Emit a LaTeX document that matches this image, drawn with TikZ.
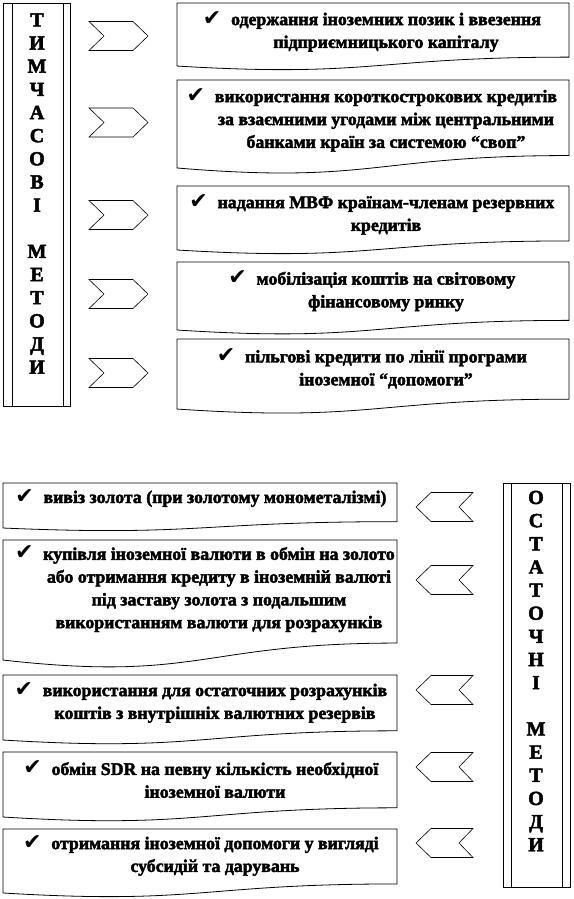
\documentclass[tikz,border=0pt]{standalone}
\usepackage{fontspec}
\setmainfont{Liberation Serif}[BoldFeatures={FakeBold=2.4}]
\newfontfamily\dvfont{DejaVu Sans}
\newcommand\ck{\llap{{\dvfont\fontsize{22}{22}\selectfont ✔}\hspace{0.55em}}}
\tikzset{
  docshape/.style={draw=black, line width=0.8pt, fill=white},
  chev/.style={draw=black, line width=0.6pt},
  txt/.style={align=center, font=\bfseries\fontsize{17.8}{22.8}\selectfont, inner sep=0pt},
  vlab/.style={align=center, font=\bfseries\fontsize{20}{23.15}\selectfont, inner sep=0pt},
  frame/.style={draw=black, line width=0.8pt}
}
% #1 x-left, #2 x-right, #3 top, #4 height
\newcommand\docbox[4]{%
  \draw[docshape] (#1,#3) -- (#2,#3) -- (#2,{#3+0.802*#4})
    .. controls ({(#1+#2)/2},{#3+0.802*#4}) and ({(#1+#2)/2},{#3+1.1075*#4}) .. (#1,{#3+0.934*#4}) -- cycle;}
\newcommand\chevR[1]{%
  \draw[chev] (89,{#1-14.5}) -- (133,{#1-14.5}) -- (148,#1) -- (133,{#1+14.5}) -- (89,{#1+14.5}) -- (104,#1) -- cycle;}
\newcommand\chevL[1]{%
  \draw[chev] (416,#1) -- (431,{#1-14.5}) -- (473,{#1-14.5}) -- (459,#1) -- (473,{#1+14.5}) -- (431,{#1+14.5}) -- cycle;}
\begin{document}
\begin{tikzpicture}[x=1pt,y=-1pt]
\useasboundingbox (0,0) rectangle (573,899);
\fill[white] (0,0) rectangle (573,899);

% left vertical block
\draw[frame] (3,3) rectangle (70,406);
\draw[frame] (12,3) -- (12,406);
\draw[frame] (63,3) -- (63,406);
\node[vlab] (L) at (37,193.5) {Т\\И\\М\\Ч\\А\\С\\О\\В\\І\\\mbox{}\\М\\Е\\Т\\О\\Д\\И};

% top chevrons
\chevR{36}
\chevR{122.5}
\chevR{215}
\chevR{294}
\chevR{373}

% top boxes
\docbox{177}{569}{3}{67.5}
\docbox{177}{569}{80}{94.2}
\docbox{177}{569}{186}{68.5}
\docbox{177}{569}{262}{72.8}
\docbox{177}{569}{339}{75}

\node[txt] (t1) at (386,31.5) {\ck одержання іноземних позик і ввезення\\підприємницького капіталу};
\node[txt] (t2) at (386,120) {\ck використання короткострокових кредитів\\за взаємними угодами між центральними\\банками країн за системою “своп”};
\node[txt] (t3) at (386,214.5) {\ck надання МВФ країнам-членам резервних\\кредитів};
\node[txt] (t4) at (386,291) {\ck мобілізація коштів на світовому\\фінансовому ринку};
\node[txt] (t5) at (386,368.5) {\ck пільгові кредити по лінії програми\\іноземної “допомоги”};

% right vertical block
\draw[frame] (503,483) rectangle (570,887);
\draw[frame] (511.5,483) -- (511.5,887);
\draw[frame] (562,483) -- (562,887);
\node[vlab] (R) at (536,671) {О\\С\\Т\\А\\Т\\О\\Ч\\Н\\І\\\mbox{}\\М\\Е\\Т\\О\\Д\\И};

% bottom chevrons
\chevL{507}
\chevL{580}
\chevL{690}
\chevL{767}
\chevL{843}

% bottom boxes
\docbox{3}{397}{483}{48.2}
\docbox{3}{397}{540}{128.5}
\docbox{3}{397}{675}{69.6}
\docbox{3}{397}{752}{69.6}
\docbox{3}{397}{829}{68.5}

\node[txt] (b1) at (215,498) {\ck вивіз золота (при золотому монометалізмі)};
\node[txt] (b2) at (219,589) {\ck купівля іноземної валюти в обмін на золото\\або отримання кредиту в іноземній валюті\\під заставу золота з подальшим\\використанням валюти для розрахунків};
\node[txt] (b3) at (215,702.5) {\ck використання для остаточних розрахунків\\коштів з внутрішніх валютних резервів};
\node[txt] (b4) at (215,779.5) {\ck обмін SDR на певну кількість необхідної\\іноземної валюти};
\node[txt] (b5) at (215,855.5) {\ck отримання іноземної допомоги у вигляді\\субсидій та дарувань};
\end{tikzpicture}
\end{document}
